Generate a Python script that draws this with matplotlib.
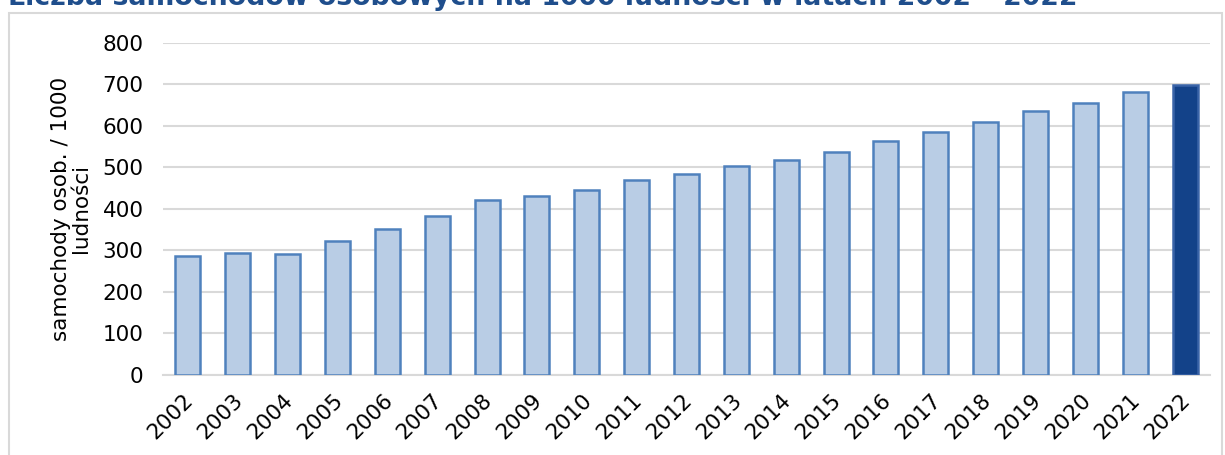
import numpy as np
import matplotlib.pyplot as plt
import matplotlib.transforms as mtransforms
from matplotlib.patches import Rectangle

# Liczba samochodow osobowych na 1000 ludnosci
years = [str(y) for y in range(2002, 2023)]
values = [287, 294, 291, 323, 351, 383, 421, 432, 446, 469, 485, 503, 518, 537,
          564, 586, 610, 635, 655, 682, 699]

title = "Liczba samochodów osobowych na 1000 ludności w latach 2002 – 2022"
ylabel = "samochody osob. / 1000\nludności"

W, H = 1225, 455
fig = plt.figure(figsize=(W / 100, H / 100), dpi=100)
plt.rcParams['font.family'] = ['DejaVu Sans']

# outer chart frame (runs off the bottom/right of the picture)
fig.patches.append(Rectangle((9 / W, -0.1), (1222 - 9) / W, 1.1 - 13 / H,
                             transform=fig.transFigure, fill=False,
                             edgecolor='#D9D9D9', linewidth=1.5))

ax = fig.add_axes([163 / W, 1 - 374.7 / H, (1210 - 163) / W, (374.7 - 43) / H])

x = np.arange(len(years))
fills = ['#B9CDE5'] * (len(years) - 1) + ['#134289']
edges = ['#4F81BD'] * (len(years) - 1) + ['#3A64A8']
ax.bar(x, values, width=0.5, color=fills, edgecolor=edges, linewidth=1.8, zorder=3)

ax.set_xlim(-0.5, len(years) - 0.5)
ax.set_ylim(0, 800)
ax.set_yticks(range(0, 801, 100))
ax.yaxis.grid(True, color='#D9D9D9', linewidth=1.5, zorder=0)
ax.set_axisbelow(True)
for s in ['top', 'right', 'left']:
    ax.spines[s].set_visible(False)
ax.spines['bottom'].set_color('#D9D9D9')
ax.spines['bottom'].set_linewidth(1.5)
ax.tick_params(length=0, labelsize=15.5, colors='black')
ax.tick_params(axis='y', pad=14)
ax.set_xticks(x)
ax.set_xticklabels(years, rotation=45, ha='right', va='top', rotation_mode='anchor')
ax.tick_params(axis='x', pad=11)
shift = mtransforms.ScaledTranslation(-5 / 100, 0, fig.dpi_scale_trans)
for lab in ax.get_xticklabels():
    lab.set_transform(lab.get_transform() + shift)
ax.set_ylabel(ylabel, fontsize=15.5, linespacing=1.0, labelpad=8)

fig.text(8 / W, 1 - 5 / H, title, fontsize=19.3, fontweight='bold',
         color='#1F4E8C', ha='left', va='baseline')

fig.savefig('out.png', dpi=100)
